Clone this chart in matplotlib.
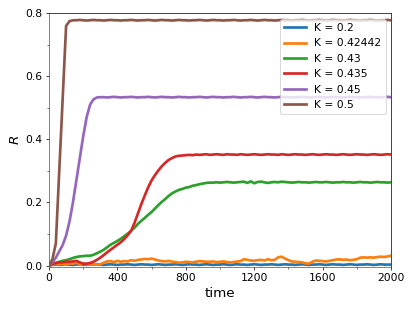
import matplotlib
matplotlib.use("Agg")
import matplotlib.pyplot as plt
from matplotlib.ticker import MultipleLocator

time = list(range(0, 2001, 20))

k_labels = ["K = 0.2", "K = 0.42442", "K = 0.43", "K = 0.435", "K = 0.45", "K = 0.5"]

r_k020 = [0.0, 0.002, 0.003, 0.002, 0.003, 0.004, 0.003, 0.002, 0.003, 0.004,
          0.003, 0.002, 0.003, 0.003, 0.004, 0.003, 0.002, 0.003, 0.004, 0.003,
          0.002, 0.003, 0.003, 0.004, 0.003, 0.002, 0.003, 0.004, 0.003, 0.003,
          0.002, 0.003, 0.004, 0.003, 0.002, 0.003, 0.003, 0.004, 0.003, 0.002,
          0.003, 0.004, 0.003, 0.003, 0.002, 0.003, 0.004, 0.003, 0.002, 0.003,
          0.003, 0.004, 0.003, 0.002, 0.003, 0.004, 0.003, 0.003, 0.002, 0.003,
          0.004, 0.003, 0.002, 0.003, 0.003, 0.004, 0.003, 0.002, 0.003, 0.004,
          0.003, 0.003, 0.002, 0.003, 0.004, 0.003, 0.002, 0.003, 0.003, 0.004,
          0.003, 0.002, 0.003, 0.004, 0.003, 0.003, 0.002, 0.003, 0.004, 0.003,
          0.002, 0.003, 0.003, 0.004, 0.003, 0.002, 0.003, 0.004, 0.003, 0.003,
          0.003]

r_k42442 = [0.0, 0.003, 0.005, 0.004, 0.006, 0.005, 0.007, 0.006, 0.009, 0.005,
            0.006, 0.004, 0.003, 0.004, 0.003, 0.004, 0.009, 0.013, 0.014, 0.011,
            0.015, 0.012, 0.014, 0.013, 0.017, 0.015, 0.018, 0.019, 0.021, 0.020,
            0.022, 0.019, 0.016, 0.014, 0.013, 0.015, 0.012, 0.011, 0.009, 0.010,
            0.012, 0.011, 0.010, 0.012, 0.014, 0.013, 0.012, 0.012, 0.013, 0.011,
            0.012, 0.013, 0.011, 0.010, 0.011, 0.013, 0.014, 0.020, 0.018, 0.016,
            0.015, 0.017, 0.018, 0.016, 0.020, 0.017, 0.018, 0.026, 0.028, 0.022,
            0.017, 0.013, 0.012, 0.011, 0.010, 0.007, 0.006, 0.012, 0.016, 0.015,
            0.014, 0.013, 0.015, 0.017, 0.019, 0.020, 0.018, 0.019, 0.017, 0.018,
            0.020, 0.025, 0.026, 0.025, 0.026, 0.025, 0.027, 0.028, 0.027, 0.029,
            0.031]

r_k043 = [0.0, 0.005, 0.008, 0.012, 0.015, 0.017, 0.020, 0.024, 0.027, 0.029,
          0.030, 0.031, 0.031, 0.034, 0.039, 0.044, 0.050, 0.058, 0.066, 0.072,
          0.078, 0.085, 0.093, 0.101, 0.110, 0.120, 0.132, 0.142, 0.151, 0.161,
          0.170, 0.181, 0.192, 0.202, 0.211, 0.221, 0.229, 0.235, 0.240, 0.243,
          0.247, 0.249, 0.253, 0.255, 0.258, 0.260, 0.262, 0.263, 0.263, 0.264,
          0.263, 0.264, 0.265, 0.264, 0.263, 0.264, 0.265, 0.266, 0.262, 0.267,
          0.261, 0.265, 0.266, 0.264, 0.262, 0.264, 0.265, 0.264, 0.266, 0.265,
          0.264, 0.263, 0.264, 0.265, 0.264, 0.264, 0.263, 0.264, 0.265, 0.264,
          0.264, 0.265, 0.264, 0.263, 0.264, 0.264, 0.265, 0.264, 0.264, 0.263,
          0.264, 0.265, 0.264, 0.264, 0.263, 0.264, 0.265, 0.264, 0.264, 0.263,
          0.264]

r_k0435 = [0.0, 0.005, 0.008, 0.010, 0.010, 0.012, 0.012, 0.013, 0.015, 0.010,
           0.006, 0.006, 0.008, 0.012, 0.018, 0.025, 0.033, 0.042, 0.050, 0.058,
           0.066, 0.074, 0.084, 0.096, 0.110, 0.135, 0.165, 0.195, 0.222, 0.248,
           0.270, 0.287, 0.302, 0.315, 0.326, 0.335, 0.341, 0.346, 0.348, 0.349,
           0.350, 0.351, 0.350, 0.352, 0.351, 0.352, 0.353, 0.351, 0.352, 0.353,
           0.352, 0.351, 0.353, 0.352, 0.352, 0.351, 0.353, 0.352, 0.351, 0.352,
           0.353, 0.352, 0.351, 0.352, 0.353, 0.352, 0.352, 0.351, 0.353, 0.352,
           0.351, 0.352, 0.353, 0.352, 0.352, 0.351, 0.352, 0.353, 0.352, 0.351,
           0.352, 0.353, 0.352, 0.352, 0.351, 0.352, 0.353, 0.352, 0.351, 0.352,
           0.353, 0.352, 0.352, 0.351, 0.352, 0.353, 0.352, 0.351, 0.352, 0.353,
           0.352]

r_k045 = [0.0, 0.010, 0.025, 0.045, 0.065, 0.095, 0.140, 0.200, 0.270, 0.340,
          0.410, 0.470, 0.510, 0.527, 0.533, 0.534, 0.534, 0.533, 0.534, 0.535,
          0.534, 0.533, 0.534, 0.534, 0.535, 0.534, 0.533, 0.534, 0.534, 0.535,
          0.534, 0.533, 0.534, 0.535, 0.534, 0.534, 0.533, 0.534, 0.535, 0.534,
          0.534, 0.533, 0.534, 0.534, 0.535, 0.534, 0.533, 0.534, 0.535, 0.534,
          0.534, 0.533, 0.534, 0.534, 0.535, 0.534, 0.533, 0.534, 0.534, 0.535,
          0.534, 0.533, 0.534, 0.535, 0.534, 0.534, 0.533, 0.534, 0.535, 0.534,
          0.534, 0.533, 0.534, 0.534, 0.535, 0.534, 0.533, 0.534, 0.534, 0.535,
          0.534, 0.533, 0.534, 0.535, 0.534, 0.534, 0.533, 0.534, 0.535, 0.534,
          0.534, 0.533, 0.534, 0.534, 0.535, 0.534, 0.533, 0.534, 0.534, 0.535,
          0.534]

r_k050 = [0.0, 0.020, 0.070, 0.300, 0.530, 0.760, 0.775, 0.778, 0.778, 0.779,
          0.778, 0.777, 0.778, 0.779, 0.778, 0.778, 0.777, 0.778, 0.779, 0.778,
          0.778, 0.777, 0.778, 0.778, 0.779, 0.778, 0.777, 0.778, 0.778, 0.779,
          0.778, 0.777, 0.778, 0.779, 0.778, 0.778, 0.777, 0.778, 0.779, 0.778,
          0.778, 0.777, 0.778, 0.778, 0.779, 0.778, 0.777, 0.778, 0.779, 0.778,
          0.778, 0.777, 0.778, 0.778, 0.779, 0.778, 0.777, 0.778, 0.778, 0.779,
          0.778, 0.777, 0.778, 0.779, 0.778, 0.778, 0.777, 0.778, 0.779, 0.778,
          0.778, 0.777, 0.778, 0.778, 0.779, 0.778, 0.777, 0.778, 0.778, 0.779,
          0.778, 0.777, 0.778, 0.779, 0.778, 0.778, 0.777, 0.778, 0.779, 0.778,
          0.778, 0.777, 0.778, 0.778, 0.779, 0.778, 0.777, 0.778, 0.778, 0.779,
          0.778]

series = [r_k020, r_k42442, r_k043, r_k0435, r_k045, r_k050]
colors = ["#1f77b4", "#ff7f0e", "#2ca02c", "#d62728", "#9467bd", "#8c564b"]

DPI = 64.8
fig = plt.figure(figsize=(415 / DPI, 311 / DPI), dpi=DPI)
ax = fig.add_axes([49 / 415, 1 - 266.8 / 311, (391 - 49) / 415, (266.8 - 13.3) / 311])

for ys, lab, c in zip(series, k_labels, colors):
    ax.plot(time, ys, color=c, lw=3, label=lab)

ax.set_xlim(0, 2000)
ax.set_ylim(-0.004, 0.8)
ax.xaxis.set_major_locator(MultipleLocator(400))
ax.xaxis.set_minor_locator(MultipleLocator(200))
ax.yaxis.set_major_locator(MultipleLocator(0.2))
ax.yaxis.set_minor_locator(MultipleLocator(0.1))
ax.tick_params(labelsize=12)
ax.set_xlabel("time", fontsize=15)
ax.set_ylabel(r"$R$", fontsize=15)
for s in ("left", "bottom"):
    ax.spines[s].set_color("#555555")
ax.legend(loc="upper right", fontsize=12)

fig.savefig("out.png", dpi=DPI)
